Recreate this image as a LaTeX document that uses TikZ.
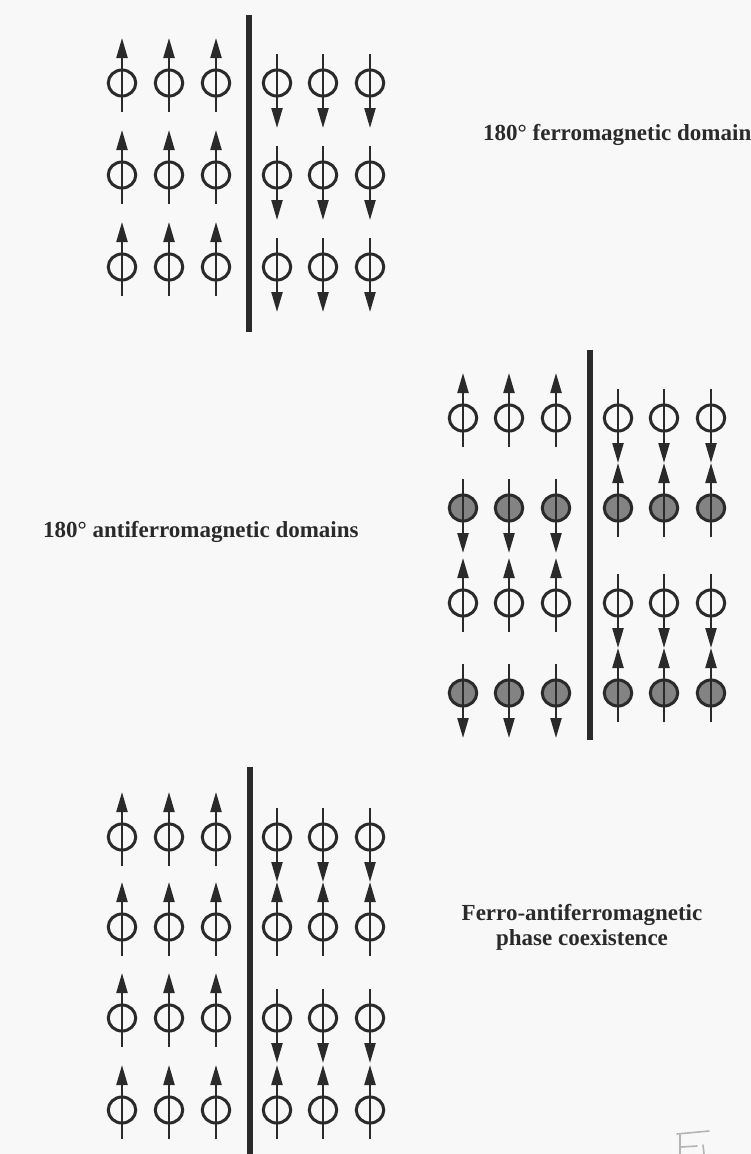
\documentclass[tikz,border=0pt]{standalone}
\usepackage{fontspec}
\setmainfont{Liberation Serif}
\usetikzlibrary{arrows.meta,calc,shapes.geometric}
\definecolor{ink}{HTML}{2A2A2A}
\definecolor{spingray}{HTML}{838383}
\definecolor{paper}{HTML}{F8F8F8}
\definecolor{pencil}{HTML}{B4B4B4}
% one spin site: node name, x, y, style, direction (1 = up, -1 = down)
\newcommand\spinsite[5]{%
  \node[#4] (#1) at (#2,#3) {};
  \draw[moment] ($(#1)+(0,29*#5)$) -- ($(#1)+(0,-45*#5)$);
}
\begin{document}
\begin{tikzpicture}[x=1pt,y=-1pt,
  site/.style={ellipse, draw=ink, line width=3pt, minimum width=27.5pt,
               minimum height=26pt, inner sep=0pt, outer sep=0pt},
  open/.style={site},
  filled/.style={site, fill=spingray},
  moment/.style={draw=ink, line width=2.2pt, -{Triangle[length=20pt,width=11pt]}},
  wall/.style={draw=ink, line width=5.5pt},
  caption/.style={font=\bfseries\fontsize{23}{25}\selectfont, text=ink,
                  inner sep=0pt, align=center},
  scribble/.style={draw=pencil, line width=1.6pt, line cap=round}
]
\fill[paper] (0,0) rectangle (751,1154);
\useasboundingbox (0,0) rectangle (751,1154);

% --- 180 degree ferromagnetic domains ---
\foreach \c [count=\i] in {122,169,216}
  \foreach \r [count=\j] in {83,175,267}
    {\spinsite{fl\i\j}{\c}{\r}{open}{1}}
\foreach \c [count=\i] in {277,323,370}
  \foreach \r [count=\j] in {83,175,267}
    {\spinsite{fr\i\j}{\c}{\r}{open}{-1}}
\coordinate (fw1) at (249,15);
\coordinate (fw2) at (249,332);
\draw[wall] (fw1) -- (fw2);
\node[caption, anchor=base west] (flabel) at (483,140) {180° ferromagnetic domain};

% --- 180 degree antiferromagnetic domains ---
\foreach \c [count=\i] in {463,509,556}
  \foreach \r/\s/\d [count=\j] in {418/open/1, 508/filled/-1, 603/open/1, 693/filled/-1}
    {\spinsite{al\i\j}{\c}{\r}{\s}{\d}}
\foreach \c [count=\i] in {618,664,711}
  \foreach \r/\s/\d [count=\j] in {418/open/-1, 508/filled/1, 603/open/-1, 693/filled/1}
    {\spinsite{ar\i\j}{\c}{\r}{\s}{\d}}
\coordinate (aw1) at (590,350);
\coordinate (aw2) at (590,740);
\draw[wall] (aw1) -- (aw2);
\node[caption, anchor=base west] (alabel) at (43,537) {180° antiferromagnetic domains};

% --- ferro / antiferro phase coexistence ---
\foreach \c [count=\i] in {122,169,216}
  \foreach \r [count=\j] in {837,927,1018,1110}
    {\spinsite{cl\i\j}{\c}{\r}{open}{1}}
\foreach \c [count=\i] in {277,323,370}
  \foreach \r/\d [count=\j] in {837/-1, 927/1, 1018/-1, 1110/1}
    {\spinsite{cr\i\j}{\c}{\r}{open}{\d}}
\coordinate (cw1) at (250,767);
\coordinate (cw2) at (250,1154);
\draw[wall] (cw1) -- (cw2);
\node[caption, anchor=base] (clabel1) at (582,920) {Ferro-antiferromagnetic};
\node[caption, anchor=base] (clabel2) at (582,945) {phase coexistence};

% pencil mark in the corner
\draw[scribble] (677,1134) -- (709,1131);
\draw[scribble] (680,1135) -- (680,1154);
\draw[scribble] (681,1147) -- (697,1146);
\draw[scribble] (703,1145) -- (704,1154);
\end{tikzpicture}
\end{document}
